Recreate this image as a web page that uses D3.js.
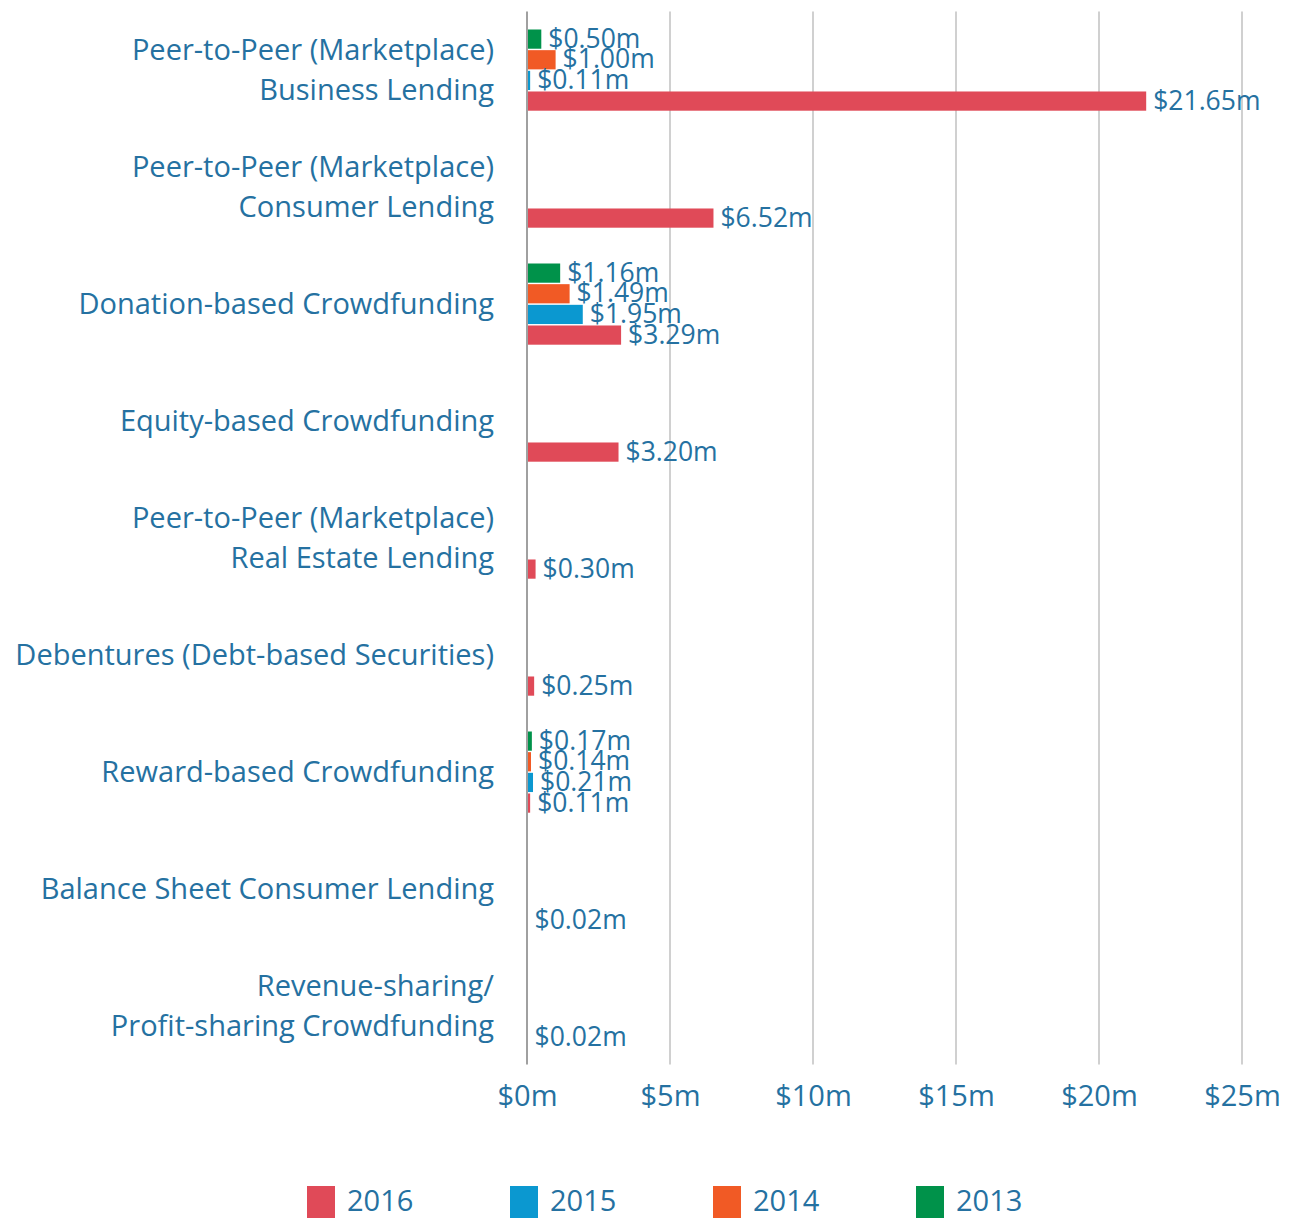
<!DOCTYPE html>
<html>
<head>
<meta charset="utf-8">
<script src="https://cdn.jsdelivr.net/npm/d3@7"></script>
<style>
  html, body { margin: 0; padding: 0; background: #fff; }
  svg { display: block; }
  text { font-family: "Open Sans", "Noto Sans", sans-serif; fill: #2571a1; }
</style>
</head>
<body>
<svg id="chart" width="1291" height="1218"></svg>
<script>
// Funding volumes by platform type, in $ millions
const categories = [
  ["Peer-to-Peer (Marketplace)", "Business Lending"],
  ["Peer-to-Peer (Marketplace)", "Consumer Lending"],
  ["Donation-based Crowdfunding"],
  ["Equity-based Crowdfunding"],
  ["Peer-to-Peer (Marketplace)", "Real Estate Lending"],
  ["Debentures (Debt-based Securities)"],
  ["Reward-based Crowdfunding"],
  ["Balance Sheet Consumer Lending"],
  ["Revenue-sharing/", "Profit-sharing Crowdfunding"]
];
const years = ["2013", "2014", "2015", "2016"];
const values2013 = [0.50, null, 1.16, null, null, null, 0.17, null, null];
const values2014 = [1.00, null, 1.49, null, null, null, 0.14, null, null];
const values2015 = [0.11, null, 1.95, null, null, null, 0.21, null, null];
const values2016 = [21.65, 6.52, 3.29, 3.20, 0.30, 0.25, 0.11, 0.02, 0.02];
const xTicks = [0, 5, 10, 15, 20, 25];
const legendOrder = ["2016", "2015", "2014", "2013"];

const seriesByYear = { "2013": values2013, "2014": values2014, "2015": values2015, "2016": values2016 };
const colors = { "2016": "#e04a58", "2015": "#0b98d0", "2014": "#f15a25", "2013": "#00924a" };

const svg = d3.select("#chart");
const catIdx = categories.map((_, i) => i);

const x = d3.scaleLinear().domain([0, 25]).range([527, 1242]);
const y0 = d3.scaleBand().domain(catIdx).range([11.6, 1064.6])
  .paddingInner(0.306).paddingOuter(0.153);
const y1 = d3.scaleBand().domain(years).range([0, y0.bandwidth()]).paddingInner(0.07);

// Vertical grid lines
svg.append("g").selectAll("line")
  .data(xTicks.filter(t => t > 0))
  .join("line")
  .attr("x1", d => x(d)).attr("x2", d => x(d))
  .attr("y1", 11.6).attr("y2", 1064.6)
  .attr("stroke", "#d0d0d0").attr("stroke-width", 2);

// Bars
const rows = [];
catIdx.forEach(i => years.forEach(yr => {
  const v = seriesByYear[yr][i];
  if (v != null) rows.push({ i, yr, v });
}));

svg.append("g").selectAll("rect")
  .data(rows)
  .join("rect")
  .attr("x", x(0))
  .attr("y", d => y0(d.i) + y1(d.yr))
  .attr("width", d => Math.max(x(d.v) - x(0), 1))
  .attr("height", y1.bandwidth())
  .attr("fill", d => colors[d.yr]);

// Value labels
svg.append("g").selectAll("text")
  .data(rows)
  .join("text")
  .attr("x", d => x(d.v) + 7)
  .attr("y", d => y0(d.i) + y1(d.yr) + y1.bandwidth() / 2 - 1)
  .attr("dy", "0.36em")
  .attr("font-size", 26.5)
  .text(d => "$" + d.v.toFixed(2) + "m");

// Baseline axis line
svg.append("line")
  .attr("x1", x(0)).attr("x2", x(0))
  .attr("y1", 11.6).attr("y2", 1064.6)
  .attr("stroke", "#a0a0a0").attr("stroke-width", 2);

// Category labels
const catG = svg.append("g").selectAll("text")
  .data(categories)
  .join("text")
  .attr("text-anchor", "end")
  .attr("font-size", 29)
  .attr("x", 494)
  .attr("y", (d, i) => y0(i) + y0.bandwidth() / 2);
catG.selectAll("tspan")
  .data(d => d.map((line, k) => ({ line, k, n: d.length })))
  .join("tspan")
  .attr("x", 494)
  .attr("dy", d => d.k === 0 ? ((0.35 - (d.n - 1) * 0.69) + "em") : "1.38em")
  .text(d => d.line);

// Bottom axis tick labels
const xAxis = d3.axisBottom(x).tickValues(xTicks).tickSize(0).tickPadding(0)
  .tickFormat(d => "$" + d + "m");
const axG = svg.append("g").attr("transform", "translate(0,1096)").call(xAxis);
axG.select(".domain").remove();
axG.selectAll("text")
  .attr("font-size", 29)
  .attr("dy", "0.36em")
  .attr("y", 0)
  .style("font-family", "\"Open Sans\", \"Noto Sans\", sans-serif")
  .attr("fill", "#2571a1");

// Legend
const legend = svg.append("g").selectAll("g")
  .data(legendOrder)
  .join("g")
  .attr("transform", (d, i) => `translate(${307 + i * 203},1186)`);
legend.append("rect")
  .attr("width", 28).attr("height", 32)
  .attr("fill", d => colors[d]);
legend.append("text")
  .attr("x", 40).attr("y", 15)
  .attr("dy", "0.36em")
  .attr("font-size", 29)
  .text(d => d);
</script>
</body>
</html>
